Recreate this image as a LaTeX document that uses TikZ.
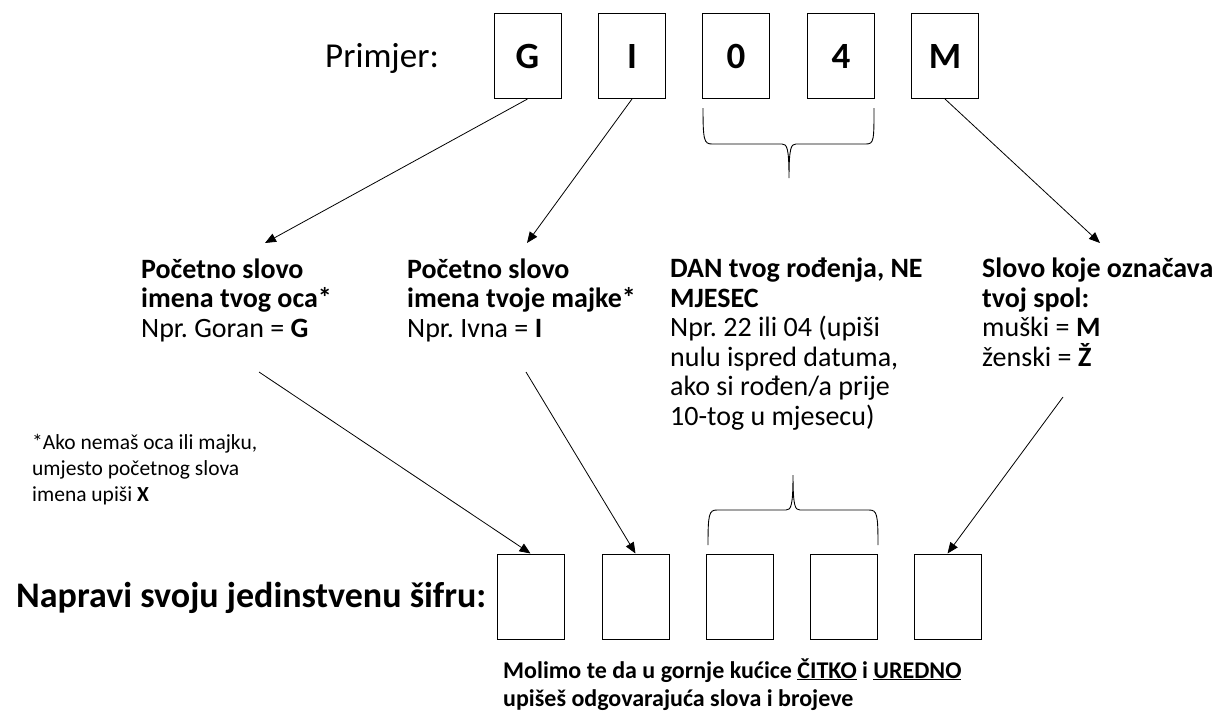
\documentclass[tikz,border=0pt]{standalone}
\usepackage{fontspec}
\setmainfont{Carlito}
\frenchspacing
\usepackage{tikz}
\usetikzlibrary{arrows.meta}
\newcommand{\fs}[2]{\fontsize{#1}{#2}\selectfont}
\tikzset{
  box/.style={draw,line width=1pt,minimum width=67pt,minimum height=85pt,inner sep=0pt,font=\fs{37}{40}\bfseries},
  arr/.style={line width=0.8pt,-{Triangle[length=11pt,width=9pt]}},
  brc/.style={line width=0.9pt},
  txt/.style={anchor=base west,inner sep=0pt,align=left,font=\fs{28}{29.5}}
}

\begin{document}
\begin{tikzpicture}[x=1pt,y=-1pt]
\fill[white] (0,0) rectangle (1217,710); \useasboundingbox (0,0) rectangle (1217,710);
\node[txt,font=\fs{35}{40}] (prim) at (325,67) {Primjer:};
\node[box] (g) at (527.5,56) {G}; \node[box] (i) at (632,56) {I};
\node[box] (d1) at (736,56) {0}; \node[box] (d2) at (841,56) {4}; \node[box] (m) at (945,56) {M};
\draw[brc] (703,108) .. controls (703,140) and (704,144) .. (712,144) -- (782,144) .. controls (787,144) and (789,148) .. (789,178)
  .. controls (789,148) and (791,144) .. (796,144) -- (866,144) .. controls (874,144) and (874,140) .. (874,108);
\node[txt] (otac) at (141,337) {\textbf{Početno slovo}\\\textbf{imena tvog oca*}\\Npr. Goran = \textbf{G}};
\node[txt] (majka) at (407,337) {\textbf{Početno slovo}\\\textbf{imena tvoje majke*}\\Npr. Ivna = \textbf{I}};
\node[txt] (dan) at (670,425) {\textbf{DAN tvog rođenja, NE}\\\textbf{MJESEC}\\Npr. 22 ili 04 (upiši\\nulu ispred datuma,\\ako si rođen/a prije\\10-tog u mjesecu)};
\node[txt] (spol) at (982,366) {\textbf{Slovo koje označava}\\\textbf{tvoj spol:}\\muški = \textbf{M}\\ženski = \textbf{Ž}};
\coordinate (otacA) at (265,243); \coordinate (majkaA) at (527,243); \coordinate (spolA) at (1100,243);
\draw[arr] (g.south) -- (otacA); \draw[arr] (i.south) -- (majkaA); \draw[arr] (m.south) -- (spolA);
\node[txt,font=\fs{21.5}{26}] (fn) at (32,501) {*Ako nemaš oca ili majku,\\umjesto početnog slova\\imena upiši \textbf{X}};
\node[txt,font=\fs{36}{40}\bfseries] (napr) at (16,607) {Napravi svoju jedinstvenu šifru:};
\node[box] (b1) at (530.5,596.5) {}; \node[box] (b2) at (635.5,596.5) {};
\node[box] (b3) at (740,596.5) {}; \node[box] (b4) at (844,596.5) {}; \node[box] (b5) at (947.5,596.5) {};
\draw[brc] (708,545) .. controls (708,514) and (709,510) .. (717,510) -- (786,510) .. controls (791,510) and (793,506) .. (793,475)
  .. controls (793,506) and (795,510) .. (800,510) -- (869,510) .. controls (877,510) and (878,514) .. (878,545);
\coordinate (otacB) at (259,372); \coordinate (majkaB) at (526,372); \coordinate (spolB) at (1063,397);
\draw[arr] (otacB) -- (b1.north); \draw[arr] (majkaB) -- (b2.north); \draw[arr] (spolB) -- (b5.north);
\node[txt,font=\fs{24}{28}\bfseries] (mol) at (503,706) {Molimo te da u gornje kućice \underline{ČITKO} i \underline{UREDNO}\\upišeš odgovarajuća slova i brojeve};
\end{tikzpicture}
\end{document}
